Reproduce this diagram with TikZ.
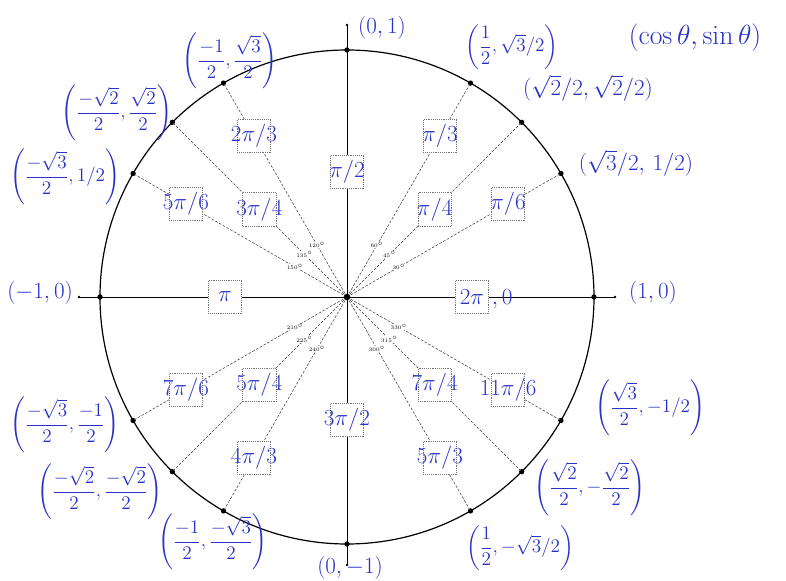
\documentclass[tikz,border=0pt]{standalone}
\usepackage{amsmath}
\usepackage{amssymb}
\usepackage{tikz}
\usetikzlibrary{positioning}
\definecolor{ink}{RGB}{40,50,200}

\tikzset{
  ray/.style={black!75, line width=0.4pt, dash pattern=on 2pt off 1.2pt},
  anglebox/.style={draw=black!55, densely dotted, fill=white, minimum size=25pt,
                   inner sep=0pt, text=ink, font=\fontsize{16}{18}\selectfont},
  coordlabel/.style={text=ink, font=\fontsize{17}{20}\selectfont, inner sep=1pt},
  fraclabel/.style={coordlabel, font=\fontsize{14}{16}\selectfont},
  deglabel/.style={font=\fontsize{4}{4}\selectfont, fill=white, inner sep=0.3pt},
  ondot/.style={circle, fill=black, inner sep=0pt, minimum size=4pt},
  enddot/.style={circle, fill=black, inner sep=0pt, minimum size=2pt}
}

\begin{document}
\begin{tikzpicture}[x=0.75pt, y=0.75pt]
    \useasboundingbox (-347,-284) rectangle (439,297);
    \fill[white] (-347,-284) rectangle (439,297);
    % circle and axes
    \coordinate (O) at (0,0);
    \draw[line width=0.9pt] (O) circle[radius=247];
    \node[enddot] (xl) at (-268,0) {};
    \node[enddot] (xr) at (268,0) {};
    \node[enddot] (yt) at (0,272) {};
    \node[enddot] (yb) at (0,-268) {};
    \draw[line width=0.7pt] (xl.center) -- (xr.center);
    \draw[line width=0.7pt] (yb.center) -- (yt.center);
    % points on the circle and rays
    \foreach \a in {0,30,45,60,90,120,135,150,180,210,225,240,270,300,315,330}
      \node[ondot] (d\a) at (\a:247) {};
    \foreach \a in {30,45,60,120,135,150,210,225,240,300,315,330}
      \draw[ray] (O) -- (d\a.center);
    \node[circle, fill=black, inner sep=0pt, minimum size=5pt] (c) at (O) {};
    % degree marks
    \foreach \a in {30,45,60,120,135,150,210,225,240,300,315,330}
      \node[deglabel] (g\a) at (\a:60) {\a$^\circ$};
    % angle boxes
    \foreach \a/\r/\t in {30/186/{\pi/6}, 45/124/{\pi/4}, 60/186/{\pi/3},
        90/125/{\pi/2}, 120/186/{2\pi/3}, 135/124/{3\pi/4}, 150/186/{5\pi/6},
        180/122/{\pi}, 210/186/{7\pi/6}, 225/124/{5\pi/4}, 240/186/{4\pi/3},
        270/123/{3\pi/2}, 300/186/{5\pi/3}, 315/124/{7\pi/4}, 330/186/{11\pi/6}}
      \node[anglebox] (b\a) at (\a:\r) {\makebox[0pt]{$\t$}};
    \node[anglebox] (b0) at (0:125) {\makebox[0pt]{$2\pi$}};
    \node[coordlabel, right=1pt of b0, yshift=-2pt] (b0z) {$,0$};
    % coordinates
    \node[coordlabel] (p90) at (35,269) {$(0,1)$};
    \node[fraclabel] (p60) at (165,250) {$\left(\dfrac{1}{2},\sqrt{3}/2\right)$};
    \node[coordlabel, font=\fontsize{20}{22}\selectfont] (gen) at (348,259) {$(\cos\theta,\sin\theta)$};
    \node[coordlabel] (p45) at (241,209) {$(\sqrt{2}/2,\sqrt{2}/2)$};
    \node[coordlabel] (p30) at (289,134) {$(\sqrt{3}/2,\,1/2)$};
    \node[coordlabel] (p0) at (306,4) {$(1,0)$};
    \node[fraclabel] (p330) at (303,-111) {$\left(\dfrac{\sqrt{3}}{2},-1/2\right)$};
    \node[fraclabel] (p315) at (243,-191) {$\left(\dfrac{\sqrt{2}}{2},-\dfrac{\sqrt{2}}{2}\right)$};
    \node[fraclabel] (p300) at (173,-251) {$\left(\dfrac{1}{2},-\sqrt{3}/2\right)$};
    \node[coordlabel] (p270) at (3,-271) {$(0,-1)$};
    \node[fraclabel] (p240) at (-134,-245) {$\left(\dfrac{-1}{2},\dfrac{-\sqrt{3}}{2}\right)$};
    \node[fraclabel] (p225) at (-247,-195) {$\left(\dfrac{-\sqrt{2}}{2},\dfrac{-\sqrt{2}}{2}\right)$};
    \node[fraclabel] (p210) at (-282,-128) {$\left(\dfrac{-\sqrt{3}}{2},\dfrac{-1}{2}\right)$};
    \node[coordlabel] (p180) at (-307,4) {$(-1,0)$};
    \node[fraclabel] (p150) at (-282,120) {$\left(\dfrac{-\sqrt{3}}{2},1/2\right)$};
    \node[fraclabel] (p135) at (-230,184) {$\left(\dfrac{-\sqrt{2}}{2},\dfrac{\sqrt{2}}{2}\right)$};
    \node[fraclabel] (p120) at (-117,236) {$\left(\dfrac{-1}{2},\dfrac{\sqrt{3}}{2}\right)$};
\end{tikzpicture}
\end{document}
